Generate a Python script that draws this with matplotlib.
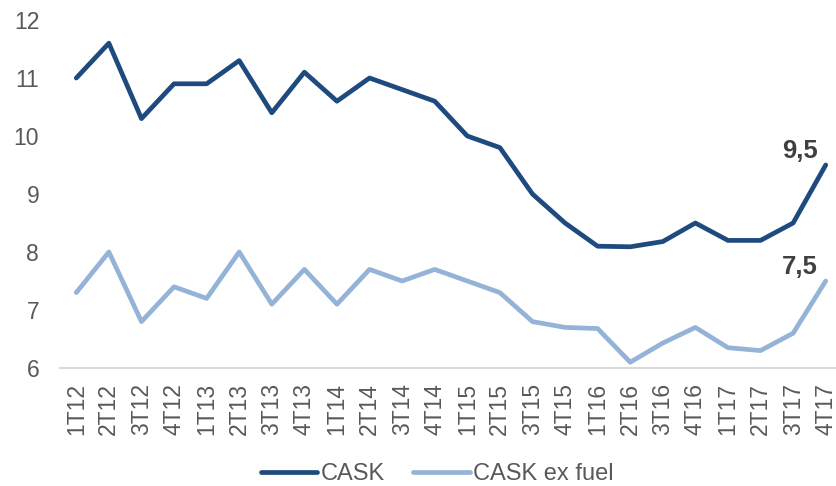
import numpy as np
import matplotlib.pyplot as plt

plt.rcParams['font.family'] = ['Liberation Sans', 'DejaVu Sans']

quarters = ["1T12", "2T12", "3T12", "4T12", "1T13", "2T13", "3T13", "4T13",
            "1T14", "2T14", "3T14", "4T14", "1T15", "2T15", "3T15", "4T15",
            "1T16", "2T16", "3T16", "4T16", "1T17", "2T17", "3T17", "4T17"]
cask = [11.0, 11.6, 10.3, 10.9, 10.9, 11.3, 10.4, 11.1,
        10.6, 11.0, 10.8, 10.6, 10.0, 9.8, 9.0, 8.5,
        8.1, 8.09, 8.18, 8.5, 8.2, 8.2, 8.5, 9.5]
cask_ex_fuel = [7.3, 8.0, 6.8, 7.4, 7.2, 8.0, 7.1, 7.7,
                7.1, 7.7, 7.5, 7.7, 7.5, 7.3, 6.8, 6.7,
                6.68, 6.1, 6.43, 6.7, 6.35, 6.3, 6.6, 7.5]

dark = "#1F4A7E"
light = "#95B3D7"

fig = plt.figure(figsize=(8.36, 4.86), dpi=100)
# category axis runs a bit past the right edge of the picture
ax = fig.add_axes([60/836, 118/486, 782/836, 348/486])

x = np.arange(len(quarters))
ax.plot(x, cask, color=dark, lw=3.4, label="CASK", solid_capstyle="round")
ax.plot(x, cask_ex_fuel, color=light, lw=3.4, label="CASK ex fuel", solid_capstyle="round")

ax.set_xlim(-0.5, len(quarters) - 0.5)
ax.set_ylim(6, 12)
ax.set_yticks(range(6, 13))
ax.set_xticks(x)
ax.set_xticklabels(quarters, rotation=90)
ax.tick_params(axis="y", length=0, pad=15, labelsize=16.5, labelcolor="#595959")
ax.tick_params(axis="x", length=0, pad=11, labelsize=16.5, labelcolor="#595959")

for s in ["top", "right", "left"]:
    ax.spines[s].set_visible(False)
ax.spines["bottom"].set_color("#D9D9D9")
ax.spines["bottom"].set_linewidth(1.5)

ax.annotate("9,5", (x[-1], cask[-1]), xytext=(-26, 2), textcoords="offset pixels",
            ha="center", va="bottom", fontsize=18.5, fontweight="bold", color="#404040")
ax.annotate("7,5", (x[-1], cask_ex_fuel[-1]), xytext=(-26, 2), textcoords="offset pixels",
            ha="center", va="bottom", fontsize=18.5, fontweight="bold", color="#404040")

fig.legend(loc="center", bbox_to_anchor=(437/836, 1 - 474/486), ncol=2, frameon=False,
           fontsize=17, labelcolor="#595959", handlelength=2.4, handletextpad=0.13,
           columnspacing=1.2)

fig.savefig("out.png", dpi=100)
